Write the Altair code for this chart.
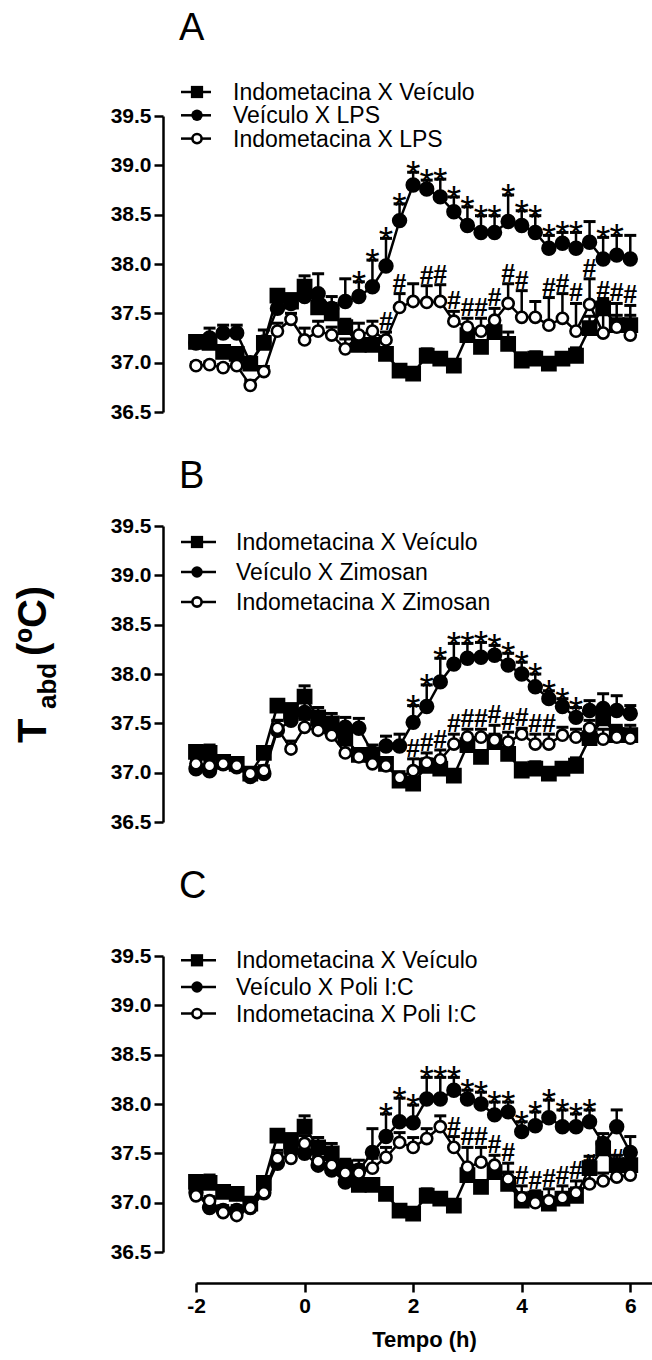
import altair as alt
import pandas as pd

TIME = [-2.0, -1.75, -1.5, -1.25, -1.0, -0.75, -0.5, -0.25, 0.0, 0.25, 0.5, 0.75,
        1.0, 1.25, 1.5, 1.75, 2.0, 2.25, 2.5, 2.75, 3.0, 3.25, 3.5, 3.75, 4.0,
        4.25, 4.5, 4.75, 5.0, 5.25, 5.5, 5.75, 6.0]

CTRL_NAME = "Indometacina X Veículo"
CTRL_MEAN = [37.21, 37.20, 37.11, 37.09, 36.99, 37.20, 37.68, 37.62, 37.77, 37.56, 37.50,
             37.36, 37.18, 37.18, 37.09, 36.92, 36.89, 37.07, 37.04, 36.97, 37.28, 37.16,
             37.31, 37.19, 37.02, 37.04, 36.99, 37.04, 37.07, 37.35, 37.55, 37.38, 37.38]
CTRL_SEM = [0.06, 0.08, 0.05, 0.05, 0.04, 0.06, 0.06, 0.08, 0.11, 0.10, 0.10, 0.08, 0.06,
            0.05, 0.05, 0.04, 0.04, 0.07, 0.06, 0.05, 0.06, 0.06, 0.08, 0.12, 0.08, 0.07,
            0.06, 0.06, 0.08, 0.12, 0.10, 0.10, 0.10]

# Panel A
LPS_NAME = "Veículo X LPS"
LPS_MEAN = [37.20, 37.25, 37.30, 37.30, 37.00, 37.21, 37.55, 37.60, 37.67, 37.70, 37.55,
            37.62, 37.67, 37.77, 37.98, 38.44, 38.80, 38.76, 38.68, 38.53, 38.39, 38.32,
            38.32, 38.43, 38.39, 38.32, 38.16, 38.21, 38.16, 38.22, 38.05, 38.09, 38.05]
LPS_SEM = [0.05, 0.10, 0.08, 0.08, 0.05, 0.12, 0.10, 0.08, 0.10, 0.20, 0.12, 0.23, 0.15,
           0.27, 0.28, 0.17, 0.13, 0.09, 0.18, 0.15, 0.19, 0.17, 0.17, 0.27, 0.15, 0.17,
           0.13, 0.11, 0.16, 0.21, 0.22, 0.20, 0.24]
INDO_LPS_NAME = "Indometacina X LPS"
INDO_LPS_MEAN = [36.97, 36.98, 36.95, 36.97, 36.77, 36.91, 37.32, 37.44, 37.23, 37.32, 37.28,
                 37.14, 37.28, 37.32, 37.23, 37.56, 37.62, 37.61, 37.62, 37.42, 37.36, 37.32,
                 37.43, 37.60, 37.46, 37.46, 37.38, 37.45, 37.32, 37.59, 37.30, 37.36, 37.28]
INDO_LPS_SEM = [0.03, 0.03, 0.03, 0.03, 0.05, 0.05, 0.08, 0.06, 0.12, 0.10, 0.08, 0.10, 0.12,
                0.10, 0.08, 0.14, 0.18, 0.17, 0.17, 0.10, 0.09, 0.13, 0.12, 0.20, 0.27, 0.16,
                0.28, 0.25, 0.28, 0.26, 0.32, 0.24, 0.30]
STARS_A = [1.0, 1.25, 1.5, 1.75, 2.0, 2.25, 2.5, 2.75, 3.0, 3.25, 3.5, 3.75, 4.0, 4.25,
           4.5, 4.75, 5.0, 5.5, 5.75]
HASH_A = [1.5, 1.75, 2.25, 2.5, 2.75, 3.0, 3.25, 3.5, 3.75, 4.0, 4.5, 4.75, 5.0, 5.25,
          5.5, 5.75, 6.0]

# Panel B
ZYM_NAME = "Veículo X Zimosan"
ZYM_MEAN = [37.04, 37.02, 37.09, 37.06, 36.96, 36.99, 37.43, 37.53, 37.61, 37.50, 37.41,
            37.46, 37.45, 37.20, 37.27, 37.27, 37.51, 37.67, 37.92, 38.10, 38.16, 38.17,
            38.19, 38.09, 38.00, 37.87, 37.75, 37.67, 37.56, 37.63, 37.65, 37.63, 37.60]
ZYM_SEM = [0.08, 0.08, 0.06, 0.06, 0.05, 0.05, 0.10, 0.10, 0.12, 0.08, 0.08, 0.10, 0.10,
           0.08, 0.10, 0.12, 0.17, 0.22, 0.24, 0.21, 0.15, 0.15, 0.10, 0.12, 0.12, 0.13,
           0.08, 0.08, 0.10, 0.10, 0.15, 0.15, 0.08]
INDO_ZYM_NAME = "Indometacina X Zimosan"
INDO_ZYM_MEAN = [37.09, 37.07, 37.09, 37.07, 36.99, 37.02, 37.45, 37.24, 37.46, 37.43, 37.38,
                 37.20, 37.16, 37.09, 37.07, 36.95, 37.02, 37.10, 37.13, 37.29, 37.36, 37.36,
                 37.33, 37.31, 37.39, 37.29, 37.29, 37.38, 37.36, 37.45, 37.34, 37.36, 37.35]
INDO_ZYM_SEM = [0.05, 0.05, 0.05, 0.05, 0.05, 0.05, 0.08, 0.08, 0.08, 0.08, 0.08, 0.08, 0.08,
                0.08, 0.06, 0.06, 0.12, 0.10, 0.10, 0.10, 0.08, 0.08, 0.15, 0.10, 0.06, 0.10,
                0.10, 0.08, 0.08, 0.08, 0.10, 0.10, 0.08]
STARS_B = [2.0, 2.25, 2.5, 2.75, 3.0, 3.25, 3.5, 3.75, 4.0, 4.25, 4.5, 4.75, 5.0]
HASH_B = [2.0, 2.25, 2.5, 2.75, 3.0, 3.25, 3.5, 3.75, 4.0, 4.25, 4.5]

# Panel C
PIC_NAME = "Veículo X Poli I:C"
PIC_MEAN = [37.10, 36.95, 36.92, 36.92, 36.95, 37.10, 37.40, 37.52, 37.50, 37.38, 37.33,
            37.21, 37.33, 37.51, 37.67, 37.82, 37.81, 38.05, 38.05, 38.14, 38.05, 38.00,
            37.89, 37.92, 37.72, 37.78, 37.86, 37.77, 37.77, 37.82, 37.60, 37.77, 37.51]
PIC_SEM = [0.05, 0.05, 0.05, 0.05, 0.05, 0.08, 0.10, 0.08, 0.10, 0.08, 0.08, 0.10, 0.10,
           0.24, 0.23, 0.24, 0.18, 0.22, 0.22, 0.13, 0.09, 0.12, 0.13, 0.10, 0.10, 0.14,
           0.18, 0.17, 0.13, 0.12, 0.10, 0.17, 0.16]
INDO_PIC_NAME = "Indometacina X Poli I:C"
INDO_PIC_MEAN = [37.07, 37.02, 36.90, 36.87, 36.95, 37.10, 37.45, 37.45, 37.60, 37.42, 37.38,
                 37.30, 37.30, 37.35, 37.46, 37.61, 37.56, 37.65, 37.77, 37.56, 37.36, 37.41,
                 37.38, 37.24, 37.05, 37.00, 37.02, 37.05, 37.10, 37.19, 37.22, 37.26, 37.28]
INDO_PIC_SEM = [0.04, 0.04, 0.04, 0.04, 0.05, 0.06, 0.08, 0.08, 0.08, 0.08, 0.08, 0.08, 0.08,
                0.10, 0.10, 0.10, 0.10, 0.10, 0.11, 0.11, 0.20, 0.15, 0.10, 0.16, 0.12, 0.12,
                0.12, 0.12, 0.12, 0.10, 0.08, 0.08, 0.08]
STARS_C = [1.5, 1.75, 2.0, 2.25, 2.5, 2.75, 3.0, 3.25, 3.5, 3.75, 4.0, 4.25, 4.5, 4.75,
           5.0, 5.25]
HASH_C = [2.75, 3.0, 3.25, 3.5, 3.75, 4.0, 4.25, 4.5, 4.75, 5.0, 5.25, 5.75]

X_TICKS = [-2, 0, 2, 4, 6]
Y_TICKS = [36.5, 37.0, 37.5, 38.0, 38.5, 39.0, 39.5]

FONT = "Liberation Sans"
W, H = 456, 296
LW = 2.5


def frame(mean, sem, marks, symbol):
    return pd.DataFrame({
        "t": TIME,
        "v": mean,
        "up": [m + s for m, s in zip(mean, sem)],
        "mark": [symbol if t in marks else "" for t in TIME],
    })


def panel(letter, veh_name, veh_mean, veh_sem, indo_name, indo_mean, indo_sem,
          stars, hashes, leg_rows, leg_text_x, leg_line_x2, letter_y, show_x, ytitle,
          top_gap=0):
    xscale = alt.Scale(domain=[-2, 6.4], nice=False, zero=False)
    yscale = alt.Scale(domain=[36.5, 39.5], nice=False, zero=False,
                       range=[H + top_gap, top_gap])
    if show_x:
        xaxis = alt.Axis(values=X_TICKS, labelExpr="'' + datum.value", offset=31,
                         title="Tempo (h)", labelFlush=False, titlePadding=13)
    else:
        xaxis = None
    yaxis = alt.Axis(values=Y_TICKS, format=".1f", offset=33, title=None, labelFlush=False)

    def X(f="t"):
        return alt.X(f"{f}:Q", scale=xscale, axis=xaxis)

    def Y(f):
        return alt.Y(f"{f}:Q", scale=yscale, axis=yaxis)

    layers = []
    series = [
        (frame(CTRL_MEAN, CTRL_SEM, [], ""), "square", True),
        (frame(veh_mean, veh_sem, stars, "*"), "circle", True),
        (frame(indo_mean, indo_sem, hashes, "#"), "circle", False),
    ]
    for df, shape, filled in series:
        c = alt.Chart(df)
        layers.append(c.mark_line(color="black", strokeWidth=LW).encode(x=X(), y=Y("v")))
        layers.append(c.mark_rule(color="black", strokeWidth=LW, opacity=1).encode(
            x=X(), y=Y("v"), y2="up:Q"))
        layers.append(c.mark_tick(orient="horizontal", color="black", thickness=3,
                                  size=12, opacity=1).encode(x=X(), y=Y("up")))
        if shape == "square":
            pts = c.mark_point(shape="square", filled=True, fill="black", stroke="black",
                               size=190, opacity=1)
        elif filled:
            pts = c.mark_point(shape="circle", filled=True, fill="black", stroke="black",
                               size=180, opacity=1)
        else:
            pts = c.mark_point(shape="circle", filled=True, fill="white", stroke="black",
                               strokeWidth=2.6, size=125, opacity=1)
        layers.append(pts.encode(x=X(), y=Y("v")))

    # significance marks
    star_df = series[1][0]
    hash_df = series[2][0]
    layers.append(alt.Chart(star_df).transform_filter(alt.datum.mark != "").mark_text(
        font=FONT, fontSize=37, baseline="alphabetic", dy=15, color="black").encode(
        x=X(), y=Y("up"), text="mark:N"))
    layers.append(alt.Chart(hash_df).transform_filter(alt.datum.mark != "").mark_text(
        font=FONT, fontSize=25, fontWeight="bold", baseline="alphabetic", dy=-2,
        color="black").encode(x=X(), y=Y("up"), text="mark:N"))

    # legend
    names = [CTRL_NAME, veh_name, indo_name]
    styles = [("square", "black", 150, 0), ("circle", "black", 130, 0), ("circle", "white", 85, 2.6)]
    for name, ry, (shp, fill, sz, sw) in zip(names, leg_rows, styles):
        ry = ry + top_gap
        ld = pd.DataFrame({"name": [name]})
        lc = alt.Chart(ld)
        layers.append(lc.mark_rule(color="black", strokeWidth=LW).encode(
            x=alt.value(-15), x2=alt.value(leg_line_x2), y=alt.value(ry)))
        layers.append(lc.mark_point(shape=shp, filled=True, fill=fill, stroke="black",
                                    strokeWidth=sw, size=sz, opacity=1).encode(
            x=alt.value(1), y=alt.value(ry)))
        layers.append(lc.mark_text(font=FONT, fontSize=23, align="left", baseline="middle",
                                   color="black").encode(
            x=alt.value(leg_text_x), y=alt.value(ry + 1), text="name:N"))

    # panel letter
    layers.append(alt.Chart(pd.DataFrame({"l": [letter]})).mark_text(
        font=FONT, fontSize=38, align="left", baseline="alphabetic", color="black").encode(
        x=alt.value(-17), y=alt.value(letter_y + top_gap), text="l:N"))

    if ytitle:
        parts = [("T", 40, -150, 217), ("abd", 26, -140, 183), ("(ºC)", 40, -150, 130)]
        for txt, fs, px, py in parts:
            layers.append(alt.Chart(pd.DataFrame({"s": [txt]})).mark_text(
                font=FONT, fontSize=fs, fontWeight="bold", angle=270, align="left",
                baseline="alphabetic", color="black").encode(
                x=alt.value(px), y=alt.value(py), text="s:N"))

    return alt.layer(*layers).properties(width=W, height=H + top_gap)


pA = panel("A", LPS_NAME, LPS_MEAN, LPS_SEM, INDO_LPS_NAME, INDO_LPS_MEAN, INDO_LPS_SEM,
           STARS_A, HASH_A, [-24, -0.7, 22.6], 37, 15, -75.7, False, False)
pB = panel("B", ZYM_NAME, ZYM_MEAN, ZYM_SEM, INDO_ZYM_NAME, INDO_ZYM_MEAN, INDO_ZYM_SEM,
           STARS_B, HASH_B, [16, 46, 76], 40, 20, -37.7, False, True)
pC = panel("C", PIC_NAME, PIC_MEAN, PIC_SEM, INDO_PIC_NAME, INDO_PIC_MEAN, INDO_PIC_SEM,
           STARS_C, HASH_C, [4.3, 31, 57.6], 40, 20, -57.7, True, False, top_gap=20)

chart = alt.vconcat(pA, pB, pC, spacing=114, bounds="flush").properties(
    padding={"left": 14, "top": 10, "right": 0, "bottom": 5},
    background="white",
).configure_view(stroke=None).configure_axis(
    domainColor="black", domainWidth=LW, tickColor="black", tickWidth=LW, tickSize=9,
    labelFont=FONT, labelFontWeight="bold", labelFontSize=21, labelColor="black",
    labelPadding=3, grid=False, titleFont=FONT, titleFontWeight="bold", titleFontSize=22,
    titleColor="black",
)

chart.save("out.html", embed_options={"renderer": "svg", "actions": False})
